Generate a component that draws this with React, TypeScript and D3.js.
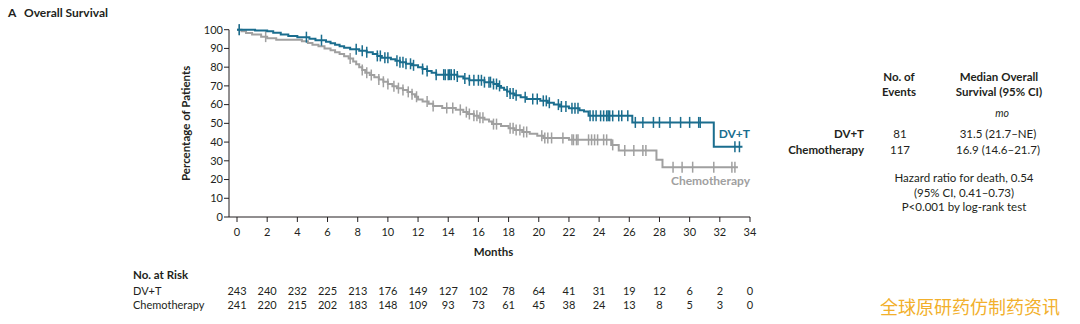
import React from 'react';
import * as d3 from 'd3';

const xTicks = [0, 2, 4, 6, 8, 10, 12, 14, 16, 18, 20, 22, 24, 26, 28, 30, 32, 34];
const yTicks = [0, 10, 20, 30, 40, 50, 60, 70, 80, 90, 100];

// Kaplan-Meier steps: [month, survival % after the step]
const dvtSteps: [number, number][] = [
  [0, 100], [1.2, 99.6], [2.0, 99.2], [2.4, 98.4], [2.9, 97.5], [3.4, 96.7], [4.0, 96.0],
  [4.8, 95.2], [5.2, 94.4], [5.9, 93.6], [6.2, 92.8], [6.5, 92.0], [6.8, 91.2], [7.1, 90.4],
  [7.5, 89.6], [8.1, 88.8], [8.6, 88.0], [9.0, 87.0], [9.3, 86.0], [9.6, 85.0], [10.2, 84.2],
  [10.5, 83.4], [10.8, 82.6], [11.2, 81.8], [11.6, 81.0], [12.0, 80.0], [12.3, 79.0],
  [12.6, 78.0], [12.9, 77.0], [13.2, 76.0], [14.6, 75.0], [15.0, 74.0], [15.4, 73.0],
  [16.4, 72.0], [17.0, 71.0], [17.3, 70.0], [17.5, 69.0], [17.7, 68.0], [17.9, 67.0],
  [18.1, 66.0], [18.4, 65.0], [18.8, 64.0], [19.2, 63.0], [20.1, 62.0], [20.6, 61.0],
  [21.0, 60.0], [21.4, 59.0], [22.0, 58.0], [22.7, 57.0], [23.0, 56.3], [23.3, 54.0],
  [26.2, 50.5], [31.6, 37.5],
];
const dvtEnd = 33.5;

const chemoSteps: [number, number][] = [
  [0, 100], [0.3, 99.2], [0.6, 98.3], [1.0, 97.5], [1.6, 96.3], [2.0, 95.4], [2.6, 94.6],
  [4.3, 93.8], [4.7, 92.9], [5.0, 92.0], [5.4, 91.2], [5.8, 90.0], [6.2, 89.0], [6.5, 88.0],
  [6.8, 87.0], [7.1, 85.8], [7.4, 84.6], [7.7, 83.0], [7.9, 81.6], [8.1, 80.0], [8.3, 78.5],
  [8.5, 77.0], [8.8, 75.8], [9.1, 74.6], [9.4, 73.4], [9.7, 72.2], [10.0, 71.0], [10.3, 69.8],
  [10.6, 68.8], [11.0, 67.8], [11.3, 66.8], [11.6, 65.6], [11.8, 64.2], [12.0, 62.8],
  [12.3, 61.6], [12.7, 60.4], [13.0, 59.2], [13.6, 58.2], [14.5, 57.2], [15.0, 56.0],
  [15.3, 55.0], [15.7, 54.0], [16.0, 53.0], [16.4, 52.0], [16.7, 51.0], [16.9, 49.6],
  [17.5, 48.6], [18.0, 47.4], [18.4, 46.4], [18.9, 45.4], [19.4, 44.4], [19.9, 43.4],
  [20.3, 42.2], [22.0, 41.2], [24.8, 38.5], [25.3, 35.5], [27.8, 30.5], [28.2, 26.6],
];
const chemoEnd = 33.2;

const dvtCensor = [
  0.15, 4.6, 5.6, 7.9, 8.3, 8.6, 9.3, 9.5, 9.8, 10.0, 10.6, 10.8, 11.0, 11.2, 11.5, 11.7,
  12.3, 12.6, 13.2, 13.7, 13.8, 14.0, 14.1, 14.2, 14.4, 14.6, 15.1, 15.4, 15.7, 16.0, 16.2,
  16.4, 16.7, 16.8, 17.0, 17.2, 17.4, 17.9, 18.1, 18.3, 18.5, 19.1, 19.6, 19.9, 20.3, 20.5,
  20.7, 21.3, 21.5, 21.8, 22.2, 22.4, 22.6, 23.4, 23.6, 23.8, 24.1, 24.3, 24.5, 24.6, 24.7,
  24.9, 25.3, 25.5, 25.9, 26.4, 26.9, 27.6, 28.0, 28.7, 29.4, 30.0, 30.6, 30.7, 33.0, 33.3,
];

const chemoCensor = [
  0.15, 1.9, 7.5, 8.3, 8.6, 8.9, 9.4, 9.7, 10.0, 10.4, 10.7, 11.0, 11.35, 11.6, 11.9, 12.6,
  13.0, 13.9, 14.3, 14.8, 15.2, 15.4, 15.7, 15.9, 16.1, 16.3, 17.0, 17.2, 18.1, 18.3, 18.5,
  18.75, 19.0, 19.2, 20.2, 20.4, 20.6, 20.85, 21.6, 22.2, 22.3, 22.5, 22.6, 23.3, 23.5, 23.7,
  23.9, 24.3, 24.5, 24.9, 25.7, 26.3, 26.9, 27.1, 28.9, 29.5, 30.2, 31.6, 32.8, 33.0,
];

const riskMonths = [0, 2, 4, 6, 8, 10, 12, 14, 16, 18, 20, 22, 24, 26, 28, 30, 32, 34];
const riskDvt = [243, 240, 232, 225, 213, 176, 149, 127, 102, 78, 64, 41, 31, 19, 12, 6, 2, 0];
const riskChemo = [241, 220, 215, 202, 183, 148, 109, 93, 73, 61, 45, 38, 24, 13, 8, 5, 3, 0];

const groups = ['DV+T', 'Chemotherapy'];
const events = [81, 117];
const medians = ['31.5 (21.7–NE)', '16.9 (14.6–21.7)'];
const statLines = ['Hazard ratio for death, 0.54', '(95% CI, 0.41–0.73)', 'P<0.001 by log-rank test'];

const TEAL = '#1a6d8e';
const GRAY = '#a0a0a0';
const TXT = '#231f20';
const FONT = 'Lato, "Open Sans", sans-serif';

function survAt(steps: [number, number][], t: number) {
  let s = steps[0][1];
  for (const [tt, ss] of steps) {
    if (tt <= t) s = ss;
    else break;
  }
  return s;
}

export default function App() {
  const x = d3.scaleLinear().domain([0, 34]).range([237, 750]);
  const y = d3.scaleLinear().domain([0, 100]).range([217, 29.7]);
  const line = d3
    .line<[number, number]>()
    .x((d) => x(d[0]))
    .y((d) => y(d[1]))
    .curve(d3.curveStepAfter);

  const dvtPts: [number, number][] = [...dvtSteps, [dvtEnd, dvtSteps[dvtSteps.length - 1][1]]];
  const chemoPts: [number, number][] = [...chemoSteps, [chemoEnd, chemoSteps[chemoSteps.length - 1][1]]];

  const axisX0 = 229;
  const y0 = y(0);

  return (
    <svg
      width={1080}
      height={324}
      style={{ position: 'absolute', left: 0, top: 0, background: '#fff' }}
      fontFamily={FONT}
    >
      <rect x={0} y={0} width={1080} height={324} fill="#fff" />
      {/* title */}
      <text x={8} y={17} fontSize={12} fontWeight={700} fill={TXT}>A</text>
      <text x={24} y={17} fontSize={12} fontWeight={700} fill={TXT}>Overall Survival</text>

      {/* y axis */}
      <line x1={axisX0} x2={axisX0} y1={y(100)} y2={y0} stroke={TXT} strokeWidth={1} />
      {yTicks.map((t) => (
        <g key={'yt' + t}>
          <line x1={axisX0 - 5} x2={axisX0} y1={y(t)} y2={y(t)} stroke={TXT} strokeWidth={1} />
          <text x={axisX0 - 6} y={y(t)} dy="0.35em" textAnchor="end" fontSize={11} fill={TXT}>
            {t}
          </text>
        </g>
      ))}
      <text
        transform={`translate(190,${(y(0) + y(100)) / 2}) rotate(-90)`}
        textAnchor="middle"
        fontSize={11.5}
        fontWeight={700}
        fill={TXT}
      >
        Percentage of Patients
      </text>

      {/* x axis */}
      <line x1={axisX0} x2={x(34)} y1={y0} y2={y0} stroke={TXT} strokeWidth={1} />
      {xTicks.map((t) => (
        <g key={'xt' + t}>
          <line x1={x(t)} x2={x(t)} y1={y0} y2={y0 + 5} stroke={TXT} strokeWidth={1} />
          <text x={x(t)} y={y0 + 15} dy="0.35em" textAnchor="middle" fontSize={11} fill={TXT}>
            {t}
          </text>
        </g>
      ))}
      <text x={(x(0) + x(34)) / 2} y={256} textAnchor="middle" fontSize={11.5} fontWeight={700} fill={TXT}>
        Months
      </text>

      {/* curves */}
      <path d={line(chemoPts) || ''} fill="none" stroke={GRAY} strokeWidth={2} />
      {chemoCensor.map((t, i) => {
        const cy = y(survAt(chemoSteps, t));
        return <line key={'cc' + i} x1={x(t)} x2={x(t)} y1={cy - 5.5} y2={cy + 5.5} stroke={GRAY} strokeWidth={1.5} />;
      })}
      <path d={line(dvtPts) || ''} fill="none" stroke={TEAL} strokeWidth={2} />
      {dvtCensor.map((t, i) => {
        const cy = y(survAt(dvtSteps, t));
        return <line key={'dc' + i} x1={x(t)} x2={x(t)} y1={cy - 5.5} y2={cy + 5.5} stroke={TEAL} strokeWidth={1.5} />;
      })}

      <text x={750} y={137.5} textAnchor="end" fontSize={12} fontWeight={700} fill={TEAL}>
        DV+T
      </text>
      <text x={750} y={185} textAnchor="end" fontSize={12} fontWeight={700} fill={GRAY}>
        Chemotherapy
      </text>

      {/* legend table */}
      <g fontSize={11.5} fill={TXT}>
        <text x={899} y={81} textAnchor="middle" fontWeight={700}>No. of</text>
        <text x={899} y={96} textAnchor="middle" fontWeight={700}>Events</text>
        <text x={999} y={81} textAnchor="middle" fontWeight={700}>Median Overall</text>
        <text x={999} y={96} textAnchor="middle" fontWeight={700}>Survival (95% CI)</text>
        <text x={1002} y={117} textAnchor="middle" fontStyle="italic" fontSize={10.5}>mo</text>
        {groups.map((g, i) => (
          <g key={'lg' + g}>
            <text x={864} y={138 + i * 16} textAnchor="end" fontWeight={700}>{g}</text>
            <text x={900} y={138 + i * 16} textAnchor="middle">{events[i]}</text>
            <text x={998} y={138 + i * 16} textAnchor="middle">{medians[i]}</text>
          </g>
        ))}
        {statLines.map((s, i) => (
          <text key={'st' + i} x={964} y={182 + i * 14.5} textAnchor="middle">{s}</text>
        ))}
      </g>

      {/* risk table */}
      <g fontSize={11} fill={TXT}>
        <text x={133} y={279} fontWeight={700} fontSize={11.5}>No. at Risk</text>
        <text x={133} y={295}>DV+T</text>
        <text x={133} y={309}>Chemotherapy</text>
        {riskMonths.map((m, i) => (
          <g key={'rk' + m}>
            <text x={x(m)} y={295} textAnchor="middle">{riskDvt[i]}</text>
            <text x={x(m)} y={309} textAnchor="middle">{riskChemo[i]}</text>
          </g>
        ))}
      </g>

      {/* watermark */}
      <text
        x={880}
        y={314}
        fontSize={18}
        fill="#f2b02c"
        fontFamily='"Noto Sans CJK SC", sans-serif'
      >
        全球原研药仿制药资讯
      </text>
    </svg>
  );
}
